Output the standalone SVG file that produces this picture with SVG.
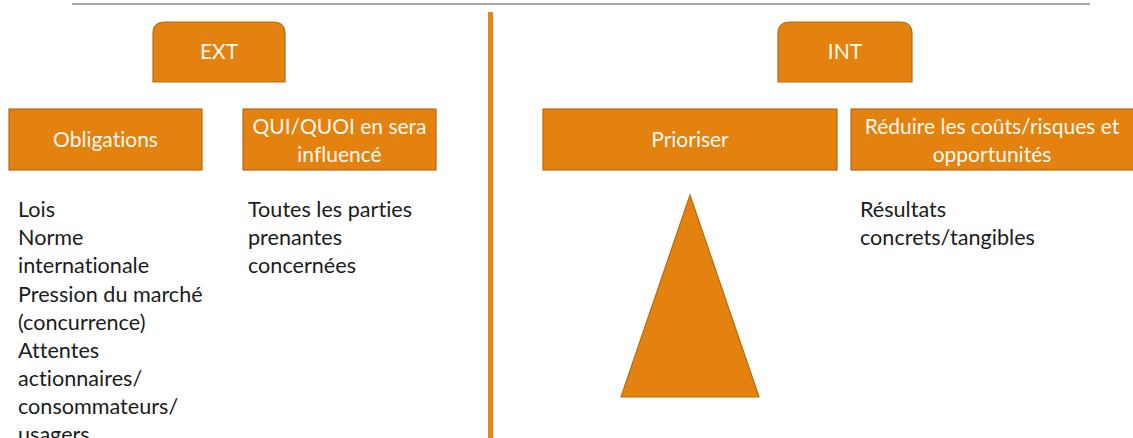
<svg xmlns="http://www.w3.org/2000/svg" width="1133" height="438" viewBox="0 0 1133 438">
<style>
.box{fill:#E4820F;stroke:#B86A12;stroke-width:1.2}
.lbl{font-family:Lato,"Open Sans",sans-serif;font-size:21px;fill:#FFF8EE;text-anchor:middle;font-variant-ligatures:none}
.txt{font-family:Lato,"Open Sans",sans-serif;font-size:21.6px;fill:#1c1c1c;font-variant-ligatures:none}
</style>
<rect width="1133" height="438" fill="#ffffff"/>
<line x1="72" y1="4" x2="1090" y2="4" stroke="#8a8a8a" stroke-width="1.5"/>
<g id="connectors">
<rect x="488" y="12" width="5" height="426" fill="#E8841A"/>
</g>
<g id="ext">
<path class="box" d="M153,82 V34 Q153,22 165,22 H273 Q285,22 285,34 V82 Z"/>
<text class="lbl" x="219" y="59">EXT</text>
</g>
<g id="int">
<path class="box" d="M778,82 V34 Q778,22 790,22 H900 Q912,22 912,34 V82 Z"/>
<text class="lbl" x="845" y="59">INT</text>
</g>
<g id="obligations">
<rect class="box" x="9" y="109" width="193" height="61"/>
<text class="lbl" x="105.5" y="147">Obligations</text>
</g>
<g id="qui">
<rect class="box" x="243" y="109" width="193" height="61"/>
<text class="lbl" x="339.5" y="134">QUI/QUOI en sera</text>
<text class="lbl" x="339.5" y="162">influencé</text>
</g>
<g id="prioriser">
<rect class="box" x="543" y="109" width="294" height="61"/>
<text class="lbl" x="690" y="147">Prioriser</text>
</g>
<g id="reduire">
<rect class="box" x="851" y="109" width="290" height="61"/>
<text class="lbl" x="992" y="134">Réduire les coûts/risques et</text>
<text class="lbl" x="992" y="162">opportunités</text>
</g>
<g id="obligations-list">
<text class="txt" x="18" y="217">Lois</text>
<text class="txt" x="18" y="245">Norme</text>
<text class="txt" x="18" y="273">internationale</text>
<text class="txt" x="18" y="302">Pression du marché</text>
<text class="txt" x="18" y="330">(concurrence)</text>
<text class="txt" x="18" y="358">Attentes</text>
<text class="txt" x="18" y="386">actionnaires/</text>
<text class="txt" x="18" y="414">consommateurs/</text>
<text class="txt" x="18" y="442">usagers</text>
</g>
<g id="qui-list">
<text class="txt" x="248" y="217">Toutes les parties</text>
<text class="txt" x="248" y="245">prenantes</text>
<text class="txt" x="248" y="273">concernées</text>
</g>
<g id="triangle">
<polygon class="box" points="690,195 759,397 621,397" stroke-width="0.8"/>
</g>
<g id="resultats">
<text class="txt" x="860" y="217">Résultats</text>
<text class="txt" x="860" y="245">concrets/tangibles</text>
</g>
</svg>
